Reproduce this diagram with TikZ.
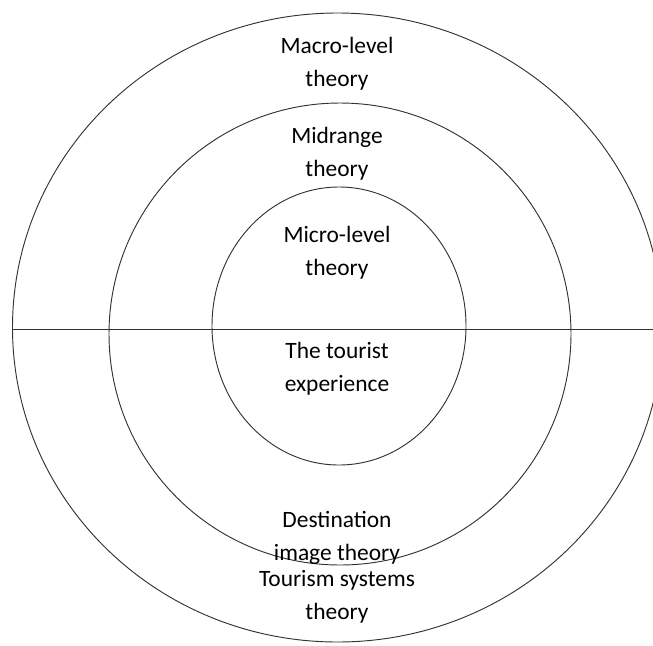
\documentclass[tikz,border=0pt]{standalone}
\usepackage{fontspec}
\setmainfont{Carlito}
\usepackage{tikz}
\usetikzlibrary{positioning}
\tikzset{
  ring/.style={draw=black!80, line width=0.8pt},
  lbl/.style={align=center, font=\fontsize{20}{28}\selectfont, inner sep=0pt}
}

\begin{document}
\begin{tikzpicture}[x=0.3mm, y=-0.3mm]

  \useasboundingbox (0,0) rectangle (653,645);

  % the three rings
  \draw[ring] (337.5,327.5) ellipse [x radius=325, y radius=314.5];
  \draw[ring] (340,334) circle [radius=231];
  \draw[ring] (339,326) ellipse [x radius=127, y radius=139];

  % dividing line
  \coordinate (divl) at (13,329);
  \coordinate (divr) at (653,329);
  \draw[ring] (divl) -- (divr);

  \node[lbl] (macro) at (337,64) {Macro-level\\theory};
  \node[lbl] (mid) at (337,154) {Midrange\\theory};
  \node[lbl] (micro) at (337,253) {Micro-level\\theory};
  \node[lbl] (exp) at (337,369) {The tourist\\experience};
  \node[lbl] (dest) at (337,538) {Destination\\image theory};
  \node[lbl] (sys) at (337,597) {Tourism systems\\theory};

\end{tikzpicture}
\end{document}
